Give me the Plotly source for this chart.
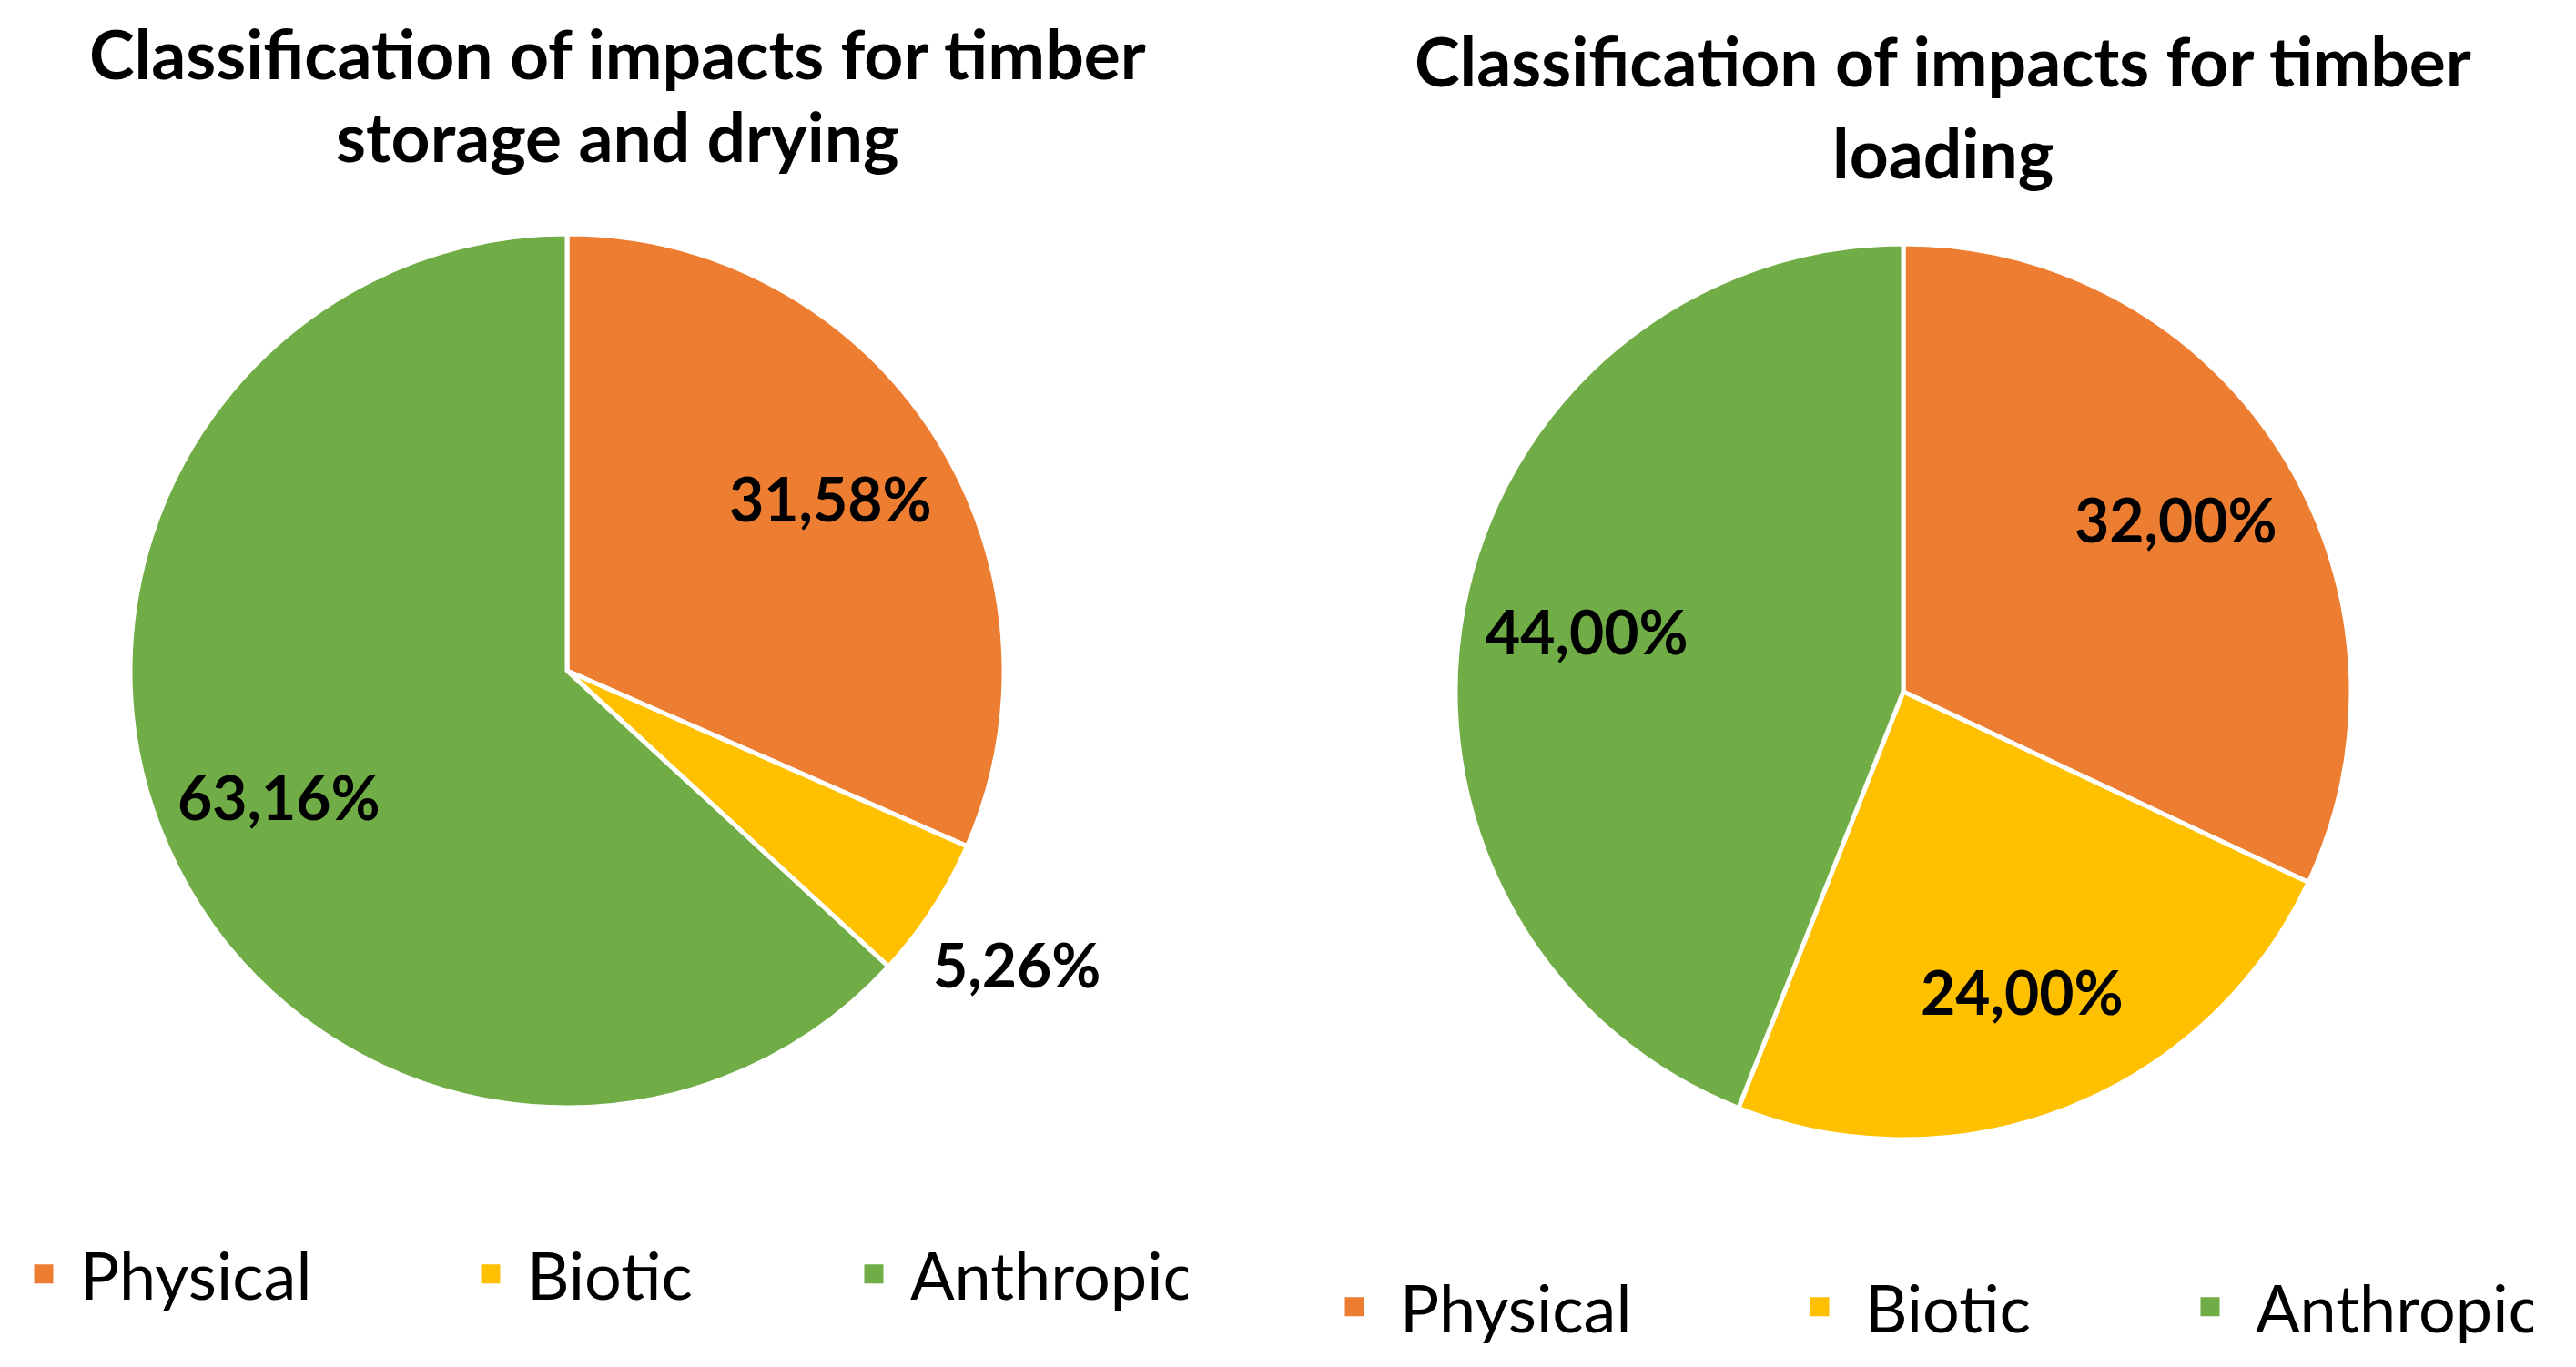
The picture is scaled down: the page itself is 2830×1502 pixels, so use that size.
import math
import plotly.graph_objects as go

W, H = 2830, 1502

categories = ["Physical", "Biotic", "Anthropic"]
storage_values = [31.58, 5.26, 63.16]
loading_values = [32.00, 24.00, 44.00]
colors = ["#ED7D31", "#FFC000", "#70AD47"]

title_left_lines = ["Classification of impacts for timber", "storage and drying"]
title_right_lines = ["Classification of impacts for timber", "loading"]

FONT = "Lato"

# pie geometry (pixels)
PIES = [
    dict(values=storage_values, cx=615, cy=729, r=480, legend="legend"),
    dict(values=loading_values, cx=2083, cy=752, r=492, legend="legend2"),
]


def dom(cx, cy, r):
    return dict(x=[(cx - r) / W, (cx + r) / W], y=[1 - (cy + r) / H, 1 - (cy - r) / H])


def fmt(v):
    return f"{v:.2f}".replace(".", ",") + "%"


fig = go.Figure()
for p in PIES:
    fig.add_trace(go.Pie(
        labels=categories, values=p["values"], sort=False, direction="clockwise", rotation=0,
        marker=dict(colors=colors, line=dict(color="white", width=5)),
        textinfo="none", domain=dom(p["cx"], p["cy"], p["r"]),
        showlegend=False, hoverinfo="label+value",
    ))
    # data labels placed along each slice bisector (Excel-like best fit)
    total = sum(p["values"])
    cum = 0.0
    for v in p["values"]:
        mid = (cum + v / 2) / total * 2 * math.pi
        cum += v
        rf = 0.72 if v / total >= 0.10 else 1.23
        x = p["cx"] + rf * p["r"] * math.sin(mid)
        y = p["cy"] - rf * p["r"] * math.cos(mid)
        fig.add_annotation(text=fmt(v), x=x / W, y=1 - y / H, xref="paper", yref="paper",
                           xanchor="center", yanchor="middle", showarrow=False,
                           font=dict(family=FONT, size=66, color="black", weight="bold"))

# legend entries (one legend under each pie)
legend_widths = {"legend": [406, 336, 300], "legend2": [406, 324, 300]}
for p in PIES:
    for i, (c, col) in enumerate(zip(categories, colors)):
        fig.add_trace(go.Scatter(
            x=[None], y=[None], mode="markers", name=c,
            marker=dict(symbol="square", size=16, color=col, line=dict(color=col, width=5)),
            legend=p["legend"], legendwidth=legend_widths[p["legend"]][i],
            showlegend=True, hoverinfo="skip",
        ))

# titles
for lines, cx, ys in [(title_left_lines, 670, [50, 141]), (title_right_lines, 2126, [58, 159])]:
    for line, y in zip(lines, ys):
        fig.add_annotation(text=line, x=cx / W, y=1 - y / H, xref="paper", yref="paper",
                           xanchor="center", yanchor="middle", showarrow=False, borderpad=0,
                           font=dict(family=FONT, size=75, color="black", weight="bold"))

legend_font = dict(family=FONT, size=72, color="black")
fig.update_layout(
    width=W, height=H, paper_bgcolor="white", plot_bgcolor="white",
    margin=dict(l=0, r=0, t=0, b=0),
    xaxis=dict(visible=False), yaxis=dict(visible=False),
    legend=dict(orientation="h", traceorder="normal", x=0, xanchor="left", y=1 - 1392 / H,
                yanchor="middle", font=legend_font, itemwidth=70, itemsizing="trace",
                bgcolor="rgba(0,0,0,0)"),
    legend2=dict(orientation="h", traceorder="normal", x=1430 / W, xanchor="left", y=1 - 1428 / H,
                 yanchor="middle", font=legend_font, itemwidth=90, itemsizing="trace",
                 bgcolor="rgba(0,0,0,0)"),
)

fig.write_html("out.html")
